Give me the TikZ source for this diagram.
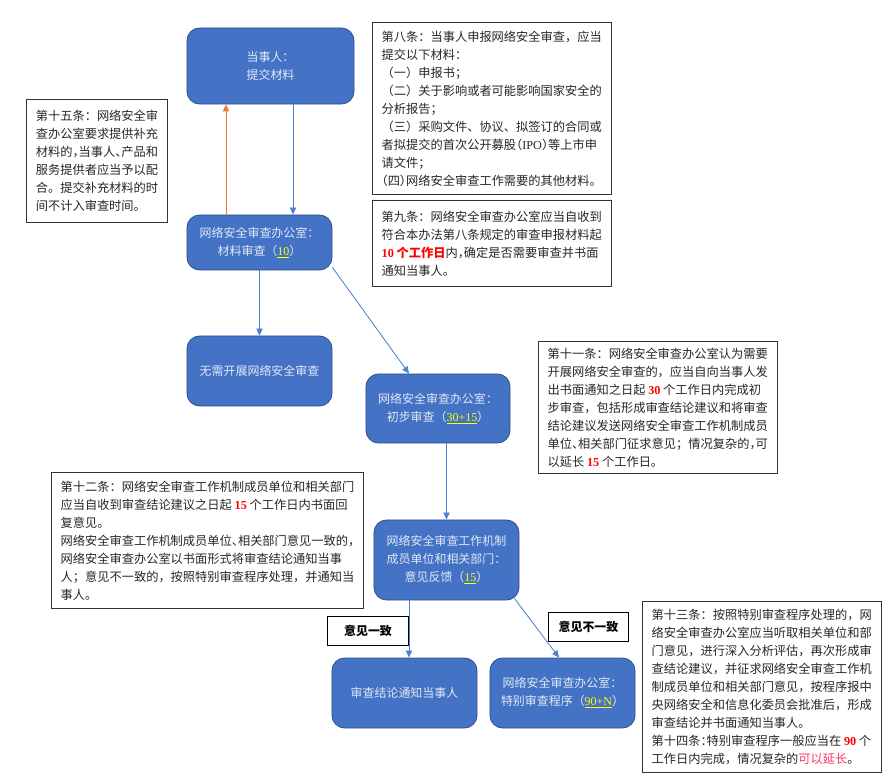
\documentclass[tikz,border=0pt]{standalone}
\usepackage{fontspec}
\setmainfont{Noto Sans CJK SC}
\newfontfamily\lat{Liberation Serif}
\usepackage{xcolor}
\usepackage{tikz}
\usetikzlibrary{arrows.meta,calc,positioning}

\definecolor{boxblue}{HTML}{4472C4}
\definecolor{boxedge}{HTML}{2F528F}
\definecolor{boxtext}{HTML}{E2E9F6}
\definecolor{linkblue}{HTML}{4F81D0}
\definecolor{linkorange}{HTML}{ED7D31}
\definecolor{numred}{HTML}{FF0000}
\definecolor{numpink}{HTML}{FF3366}
\definecolor{numyellow}{HTML}{FFFF00}

\newcommand{\hl}[1]{{\lat\bfseries\color{numred}#1}}
\newcommand{\yl}[1]{{\lat\color{numyellow}\underline{#1}}}
\newcommand{\hp}[1]{\makebox[0.5em][l]{#1}}
\newcommand{\hpr}[1]{\makebox[0.5em][r]{#1}}

\begin{document}
\begin{tikzpicture}[x=0.025cm,y=-0.025cm,
	blue box/.style={draw=boxedge, fill=boxblue, line width=0.6pt, rounded corners=9pt, text=boxtext, align=center, inner sep=0pt, font=\fontsize{8.5}{12.8}\selectfont},
	note/.style={draw=black!80, line width=0.7pt, anchor=north west, align=left, inner xsep=6.5pt, inner ysep=0pt, text=black!85, font=\fontsize{8.7}{12.8}\selectfont},
	tag/.style={draw=black, line width=0.7pt, anchor=north west, inner sep=0pt, font=\fontsize{8.5}{10}\selectfont\bfseries},
	link/.style={draw=linkblue, line width=0.6pt, -{Triangle[length=5pt,width=4.5pt]}}]
	\useasboundingbox (0,0) rectangle (892,781);

	\node[blue box, minimum width=4.175cm, minimum height=1.9cm] (party) at (270.5,66) {当事人：\\提交材料};
	\node[blue box, minimum width=3.625cm, minimum height=1.375cm] (review) at (259.5,242.5) {网络安全审查办公室：\\材料审查（\yl{10}）};
	\node[blue box, minimum width=3.625cm, minimum height=1.75cm] (noreview) at (259.5,371) {无需开展网络安全审查};
	\node[blue box, minimum width=3.6cm, minimum height=1.725cm] (prelim) at (438,408.5) {网络安全审查办公室：\\初步审查（\yl{30+15}）};
	\node[blue box, minimum width=3.625cm, minimum height=2.0cm] (feedback) at (446.5,560) {网络安全审查工作机制\\成员单位和相关部门：\\意见反馈（\yl{15}）};
	\node[blue box, minimum width=3.625cm, minimum height=1.75cm] (notify) at (404.5,693) {审查结论通知当事人};
	\node[blue box, minimum width=3.625cm, minimum height=1.75cm] (special) at (562.5,693) {网络安全审查办公室：\\特别审查程序（\yl{90+N}）};

	\node[note, minimum width=3.525cm, minimum height=3.075cm] (art15) at (26,99) {第十五条：网络安全审\\查办公室要求提供补充\\材料的\hp{，}当事人\hp{、}产品和\\服务提供者应当予以配\\合。提交补充材料的时\\间不计入审查时间。};
	\node[note, minimum width=5.95cm, minimum height=4.3cm] (art8) at (372,22) {第八条：当事人申报网络安全审查，应当\\提交以下材料：\\（一）申报书；\\（二）关于影响或者可能影响国家安全的\\分析报告；\\（三）采购文件、协议、拟签订的合同或\\者拟提交的首次公开募股\hpr{（}{\lat IPO}\hp{）}等上市申\\请文件；\\\hpr{（}四\hp{）}网络安全审查工作需要的其他材料。};
	\node[note, minimum width=5.95cm, minimum height=2.15cm] (art9) at (372,200) {第九条：网络安全审查办公室应当自收到\\符合本办法第八条规定的审查申报材料起\\{\bfseries\color{numred}{\lat 10} 个工作日}内\hp{，}确定是否需要审查并书面\\通知当事人。};
	\node[note, minimum width=5.925cm, minimum height=3.3cm] (art11) at (538,341) {第十一条：网络安全审查办公室认为需要\\开展网络安全审查的，应当自向当事人发\\出书面通知之日起 \hl{30} 个工作日内完成初\\步审查，包括形成审查结论建议和将审查\\结论建议发送网络安全审查工作机制成员\\单位\hp{、}相关部门征求意见；情况复杂的\hp{，}可\\以延长 \hl{15} 个工作日。};
	\node[note, minimum width=7.725cm, minimum height=3.4cm] (art12) at (51,472) {第十二条：网络安全审查工作机制成员单位和相关部门\\应当自收到审查结论建议之日起 \hl{15} 个工作日内书面回\\复意见。\\网络安全审查工作机制成员单位\hp{、}相关部门意见一致的\hp{，}\\网络安全审查办公室以书面形式将审查结论通知当事\\人；意见不一致的，按照特别审查程序处理，并通知当\\事人。};
	\node[note, minimum width=5.95cm, minimum height=4.275cm] (art13) at (642,601) {第十三条：按照特别审查程序处理的，网\\络安全审查办公室应当听取相关单位和部\\门意见，进行深入分析评估，再次形成审\\查结论建议，并征求网络安全审查工作机\\制成员单位和相关部门意见，按程序报中\\央网络安全和信息化委员会批准后，形成\\审查结论并书面通知当事人。\\第十四条\hp{：}特别审查程序一般应当在 \hl{90} 个\\工作日内完成，情况复杂的{\color{numpink}可以延长}。};

	\node[tag, minimum width=2.025cm, minimum height=0.725cm] (agree) at (327,616) {意见一致};
	\node[tag, minimum width=2.0cm, minimum height=0.725cm] (disagree) at (548,612) {意见不一致};

	\coordinate (up) at ($(review.north)+(-33.5,0)$);
	\coordinate (down) at ($(party.south)+(22.5,0)$);
	\coordinate (toagree) at ($(feedback.south)+(-37.5,0)$);
	\draw[link, draw=linkorange] (up) -- (up |- party.south);
	\draw[link] (down) -- (down |- review.north);
	\draw[link] (review.south) -- (noreview.north);
	\draw[link] ($(review.south east)+(0,-3)$) -- ($(prelim.north)+(-29,0)$);
	\draw[link] (feedback.north |- prelim.south) -- (feedback.north);
	\draw[link] (toagree) -- (toagree |- notify.north);
	\draw[link] ($(feedback.south east)+(-5,-2)$) -- ($(special.north)+(-3.5,0)$);
\end{tikzpicture}
\end{document}
